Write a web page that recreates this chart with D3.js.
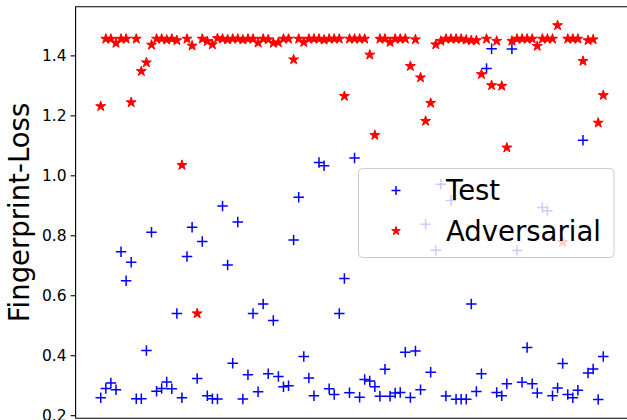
<!DOCTYPE html>
<html>
<head>
<meta charset="utf-8">
<script src="https://cdn.jsdelivr.net/npm/d3@7"></script>
<style>
  html, body { margin: 0; padding: 0; background: #fff; }
  svg { display: block; }
  text { font-family: "DejaVu Sans", sans-serif; }
</style>
</head>
<body>
<svg id="chart" width="627" height="420"></svg>
<script>
// Fingerprint loss per sample, one value per sample index
const testLoss = [
  0.258, 0.289, 0.307, 0.285, 0.745, 0.648, 0.710, 0.255, 0.255, 0.416,
  0.810, 0.280, 0.289, 0.311, 0.288, 0.539, 0.258, 0.729, 0.827, 0.322,
  0.779, 0.265, 0.255, 0.254, 0.898, 0.701, 0.373, 0.844, 0.254, 0.335,
  0.539, 0.278, 0.571, 0.338, 0.516, 0.329, 0.295, 0.298, 0.784, 0.927,
  0.396, 0.324, 0.265, 1.043, 1.032, 0.288, 0.269, 0.539, 0.656, 0.275,
  1.058, 0.260, 0.319, 0.314, 0.295, 0.263, 0.353, 0.263, 0.274, 0.276,
  0.410, 0.259, 0.414, 0.285, 0.837, 0.343, 0.750, 0.970, 0.264, 0.916,
  0.253, 0.253, 0.253, 0.571, 0.279, 0.338, 1.356, 1.422, 0.276, 0.265,
  0.305, 1.421, 0.749, 0.310, 0.426, 0.305, 0.274, 0.893, 0.882, 0.265,
  0.291, 0.372, 0.269, 0.258, 0.283, 1.117, 0.341, 0.354, 0.252, 0.396
];

const adversarialLoss = [
  1.230, 1.455, 1.455, 1.441, 1.455, 1.455, 1.243, 1.455, 1.347, 1.376,
  1.435, 1.455, 1.455, 1.452, 1.455, 1.450, 1.034, 1.455, 1.432, 0.539,
  1.455, 1.447, 1.436, 1.457, 1.455, 1.453, 1.455, 1.455, 1.452, 1.455,
  1.455, 1.442, 1.455, 1.453, 1.441, 1.443, 1.455, 1.455, 1.386, 1.455,
  1.444, 1.455, 1.455, 1.455, 1.452, 1.455, 1.455, 1.455, 1.264, 1.455,
  1.455, 1.455, 1.455, 1.402, 1.134, 1.455, 1.455, 1.444, 1.455, 1.455,
  1.455, 1.364, 1.453, 1.326, 1.181, 1.241, 1.436, 1.448, 1.455, 1.455,
  1.455, 1.455, 1.452, 1.450, 1.450, 1.337, 1.455, 1.300, 1.448, 1.298,
  1.092, 1.448, 1.455, 1.455, 1.455, 1.455, 1.431, 1.455, 1.455, 1.455,
  1.500, 0.777, 1.455, 1.455, 1.455, 1.381, 1.450, 1.453, 1.175, 1.267
];

const seriesNames = ["Test", "Adversarial"];
const yTicks = [0.2, 0.4, 0.6, 0.8, 1.0, 1.2, 1.4];
const yLabel = "Fingerprint-Loss";

const svg = d3.select("#chart");
const plot = { left: 75.6, right: 628.4, top: 6.7, bottom: 418.3 };

// 5% padding on both axes around the data extent
const n = testLoss.length;
const xPad = 0.05 * (n - 1);
const x = d3.scaleLinear()
  .domain([-xPad, n - 1 + xPad])
  .range([plot.left, plot.right]);

const all = testLoss.concat(adversarialLoss);
const [yMin, yMax] = d3.extent(all);
const yPad = 0.05 * (yMax - yMin);
const y = d3.scaleLinear()
  .domain([yMin - yPad, yMax + yPad])
  .range([plot.bottom, plot.top]);

// five-pointed star path, inner radius ratio as in a regular star marker
function starPath(r) {
  const inner = r * 0.381966;
  const pts = [];
  for (let k = 0; k < 10; k++) {
    const rad = k % 2 === 0 ? r : inner;
    const a = -Math.PI / 2 + k * Math.PI / 5;
    pts.push([rad * Math.cos(a), rad * Math.sin(a)]);
  }
  return "M" + pts.map(p => p[0].toFixed(2) + "," + p[1].toFixed(2)).join("L") + "Z";
}
function plusPath(s) {
  const h = s / 2;
  return `M${-h},0H${h}M0,${-h}V${h}`;
}

const markerSize = 10.5;
const blue = "#0000ff", red = "#ff0000";

// Test samples
svg.append("g")
  .selectAll("path")
  .data(testLoss)
  .join("path")
  .attr("transform", (d, i) => `translate(${x(i)},${y(d)})`)
  .attr("d", plusPath(markerSize))
  .attr("fill", "none")
  .attr("stroke", blue)
  .attr("stroke-width", 1.5);

// Adversarial samples
svg.append("g")
  .selectAll("path")
  .data(adversarialLoss)
  .join("path")
  .attr("transform", (d, i) => `translate(${x(i)},${y(d)})`)
  .attr("d", starPath(markerSize / 2))
  .attr("fill", red)
  .attr("stroke", red)
  .attr("stroke-width", 1)
  .attr("stroke-linejoin", "miter");

// spines
const spineColor = "#000";
svg.append("path")
  .attr("d", `M${plot.left},${plot.bottom}V${plot.top}H${plot.right}`)
  .attr("fill", "none").attr("stroke", spineColor).attr("stroke-width", 1.1);
svg.append("path")
  .attr("d", `M${plot.left},${plot.bottom}H${plot.right}`)
  .attr("fill", "none").attr("stroke", spineColor).attr("stroke-width", 1.1);

// y axis
const yAxis = d3.axisLeft(y)
  .tickValues(yTicks)
  .tickFormat(d3.format(".1f"))
  .tickSize(5)
  .tickPadding(4);
const gy = svg.append("g")
  .attr("transform", `translate(${plot.left},0)`)
  .call(yAxis);
gy.select(".domain").remove();
gy.selectAll(".tick line").attr("stroke", "#000").attr("stroke-width", 1.1);
gy.selectAll(".tick text")
  .attr("font-family", "DejaVu Sans")
  .attr("font-size", 15.5)
  .attr("fill", "#000");

// y label
svg.append("text")
  .attr("transform", `translate(29,${(plot.top + plot.bottom) / 2}) rotate(-90)`)
  .attr("text-anchor", "middle")
  .attr("font-size", 27.5)
  .attr("fill", "#000")
  .text(yLabel);

// legend
const legend = svg.append("g");
legend.append("rect")
  .attr("x", 358.5).attr("y", 168.5)
  .attr("width", 255.5).attr("height", 89)
  .attr("rx", 4).attr("ry", 4)
  .attr("fill", "#fff").attr("fill-opacity", 0.8)
  .attr("stroke", "#cccccc").attr("stroke-width", 1);

const legendRows = [
  { name: seriesNames[0], cy: 190.5, base: 199.5 },
  { name: seriesNames[1], cy: 231, base: 240.5 }
];
legend.append("path")
  .attr("transform", `translate(396,${legendRows[0].cy})`)
  .attr("d", plusPath(9))
  .attr("fill", "none").attr("stroke", blue).attr("stroke-width", 1.5);
legend.append("path")
  .attr("transform", `translate(396,${legendRows[1].cy})`)
  .attr("d", starPath(4.5))
  .attr("fill", red).attr("stroke", red).attr("stroke-width", 1);
legend.selectAll("text.lbl")
  .data(legendRows)
  .join("text")
  .attr("class", "lbl")
  .attr("x", 446)
  .attr("y", d => d.base)
  .attr("font-size", 27.5)
  .attr("fill", "#000")
  .text(d => d.name);
</script>
</body>
</html>
